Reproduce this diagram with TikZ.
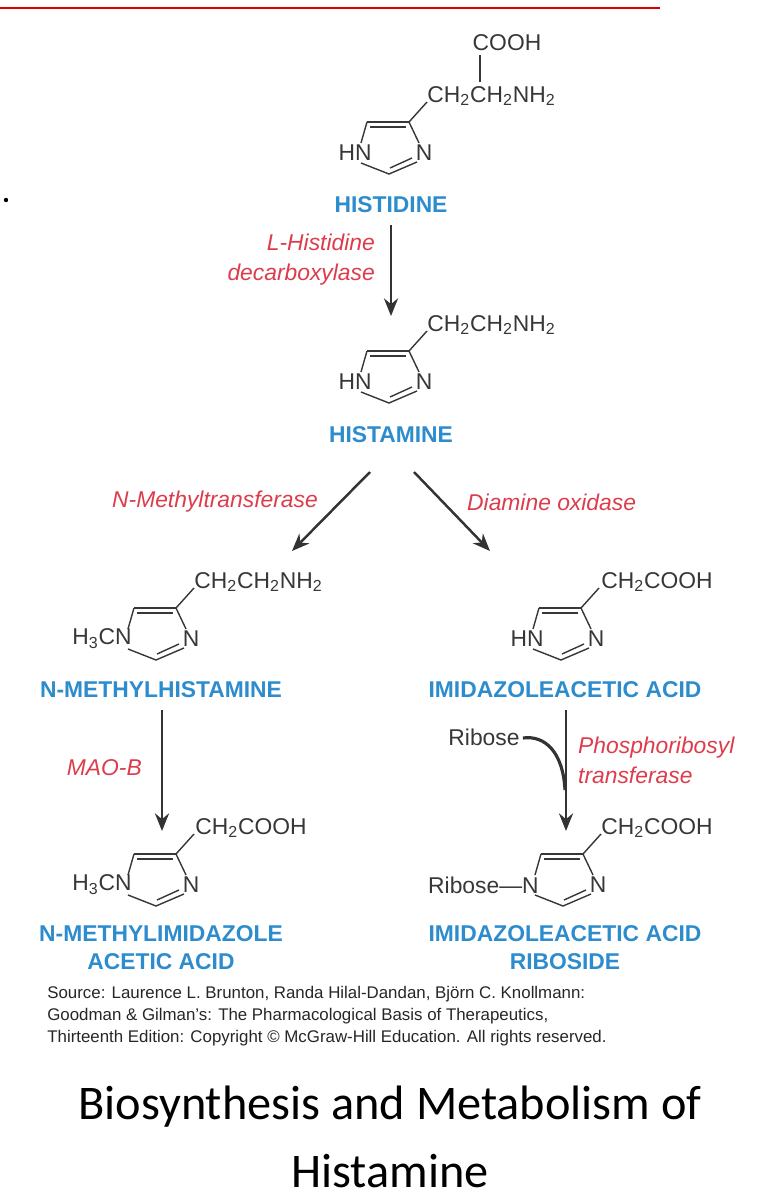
\documentclass[tikz,border=0pt]{standalone}
\usepackage{fontspec}
\setmainfont{Liberation Sans}
\newfontfamily\titlefont{Carlito}
\usetikzlibrary{arrows.meta}
\definecolor{nblue}{RGB}{45,140,205}
\definecolor{ered}{RGB}{220,60,75}
\definecolor{chem}{RGB}{55,55,55}
\tikzset{
 x=0.02cm,y=-0.02cm,
 cmpd/.style={font=\fontsize{13}{16}\selectfont\bfseries,text=nblue,align=center},
 enz/.style={font=\fontsize{13}{17}\selectfont\itshape,text=ered},
 atom/.style={font=\fontsize{13}{15}\selectfont,text=chem,inner sep=0pt},
 bond/.style={draw=chem,line width=0.8pt},
 rxn/.style={draw=black!80,line width=1.4pt,-{Stealth[length=10pt,width=8pt]}},
 imid/.pic={
  \draw[bond] (0,0) -- (-42,0);
  \draw[bond] (-39,5) -- (-3,5);
  \draw[bond] (-42,0) -- (-48,21);
  \draw[bond] (0,0) -- (10,21);
  \draw[bond] (-48,41) -- (-20,52) -- (8,40);
  \draw[bond] (-19,46) -- (3,36);
  \draw[bond] (0,0) -- (18,-20);
 }
}
\begin{document}
\begin{tikzpicture}
\useasboundingbox (0,0) rectangle (768,1200);
\draw[red!85!black,line width=1.5pt] (0,8) -- (660,8);
\fill (6,200) circle (2.2);
% Histidine
\pic at (409,122) {imid};
\node[atom] (h1a) at (355,153) {HN};
\node[atom] (h1b) at (424,153) {N};
\node[atom,anchor=west] (h1c) at (427,96) {CH\textsubscript{2}CH\textsubscript{2}NH\textsubscript{2}};
\node[atom] (h1d) at (507,43) {COOH};
\draw[bond] (480,55) -- (480,82);
\node[cmpd] (his) at (391,205) {HISTIDINE};
% Histamine
\pic at (409,351) {imid};
\node[atom] at (355,382) {HN};
\node[atom] at (424,382) {N};
\node[atom,anchor=west] at (427,325) {CH\textsubscript{2}CH\textsubscript{2}NH\textsubscript{2}};
\node[cmpd] (hist) at (391,435) {HISTAMINE};
% N-methylhistamine
\pic at (176,608) {imid};
\node[atom,anchor=east] at (132,639) {H\textsubscript{3}CN};
\node[atom] at (191,639) {N};
\node[atom,anchor=west] at (194,582) {CH\textsubscript{2}CH\textsubscript{2}NH\textsubscript{2}};
\node[cmpd] (nmh) at (161,690) {N-METHYLHISTAMINE};
% Imidazoleacetic acid
\pic at (581,608) {imid};
\node[atom] at (527,639) {HN};
\node[atom] at (596,639) {N};
\node[atom,anchor=west] at (601,582) {CH\textsubscript{2}COOH};
\node[cmpd] (iaa) at (565,690) {IMIDAZOLEACETIC ACID};
% N-methylimidazole acetic acid
\pic at (176,854) {imid};
\node[atom,anchor=east] at (132,885) {H\textsubscript{3}CN};
\node[atom] at (191,885) {N};
\node[atom,anchor=west] at (195,828) {CH\textsubscript{2}COOH};
\node[cmpd] (nmia) at (161,948) {N-METHYLIMIDAZOLE\\ACETIC ACID};
% Riboside
\pic at (583,854) {imid};
\node[atom,anchor=east] at (539,885) {Ribose—N};
\node[atom] at (598,885) {N};
\node[atom,anchor=west] at (601,828) {CH\textsubscript{2}COOH};
\node[cmpd] (iaar) at (565,948) {IMIDAZOLEACETIC ACID\\RIBOSIDE};
% arrows
\coordinate (a1s) at (391,225); \coordinate (a1e) at (391,316);
\draw[rxn] (a1s) -- (a1e);
\node[enz,align=right,anchor=east] at (381,260) {L-Histidine\\decarboxylase};
\coordinate (a2s) at (370,472); \coordinate (a2e) at (292,551);
\draw[rxn] (a2s) -- (a2e);
\node[enz,anchor=east] at (324,502) {N-Methyltransferase};
\coordinate (a3s) at (414,472); \coordinate (a3e) at (490,551);
\draw[rxn] (a3s) -- (a3e);
\node[enz,anchor=west] at (461,502) {Diamine oxidase};
\coordinate (a4s) at (162,710); \coordinate (a4e) at (162,831);
\draw[rxn] (a4s) -- (a4e);
\node[enz,anchor=east] at (148,768) {MAO-B};
\coordinate (a5s) at (566,710); \coordinate (a5e) at (566,831);
\draw[rxn] (a5s) -- (a5e);
\node[atom] (rib) at (484,737) {Ribose};
\draw[draw=black!80,line width=1.8pt] (rib.east) ++(3,1) .. controls (545,735) and (563,752) .. (565,790);
\node[enz,align=left,anchor=west] at (572,760) {Phosphoribosyl\\transferase};
% source
\node[anchor=north west,align=left,font=\fontsize{9.6}{12.6}\selectfont,text=black!85,inner sep=0] (src) at (47,986) {Source: Laurence L. Brunton, Randa Hilal-Dandan, Björn C. Knollmann:\\Goodman \& Gilman's: The Pharmacological Basis of Therapeutics,\\Thirteenth Edition: Copyright © McGraw-Hill Education. All rights reserved.};
\node[font=\titlefont\fontsize{27.5}{39}\selectfont,align=center] (title) at (390,1137) {Biosynthesis and Metabolism of\\Histamine};
\end{tikzpicture}
\end{document}
